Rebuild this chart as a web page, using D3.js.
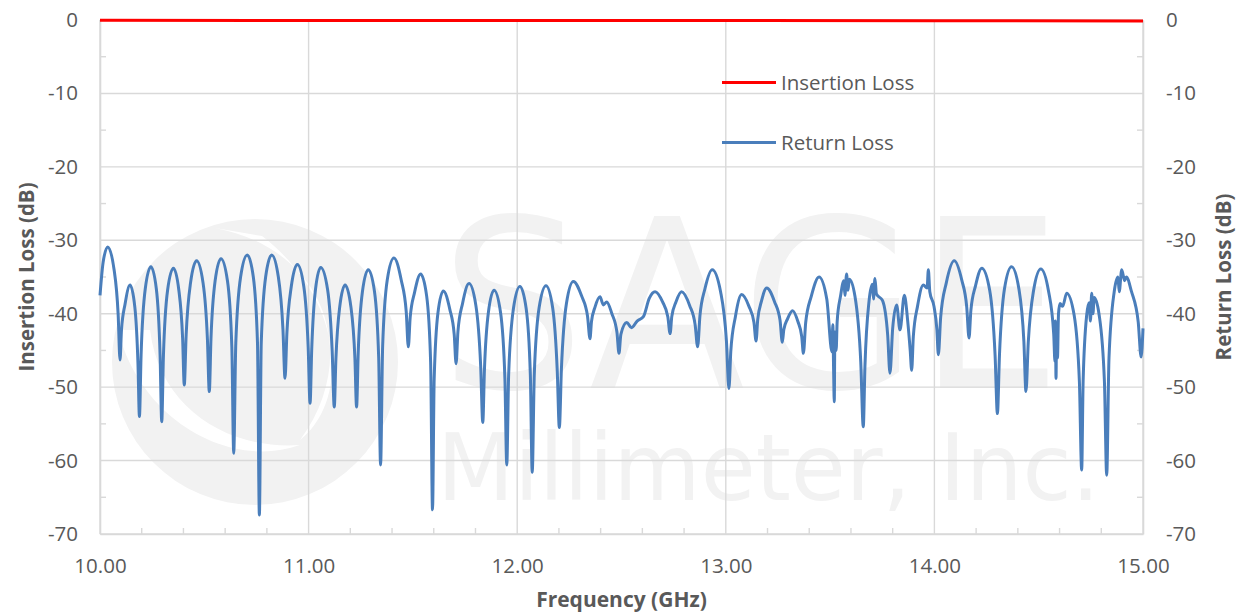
<!DOCTYPE html>
<html>
<head>
<meta charset="utf-8">
<script src="https://cdn.jsdelivr.net/npm/d3@7"></script>
<style>
  html, body { margin: 0; padding: 0; background: #fff; }
  svg { display: block; }
  text { font-family: "Open Sans", "Liberation Sans", sans-serif; }
</style>
</head>
<body>
<svg id="chart" width="1243" height="616"></svg>
<script>
// ---------------- DATA ----------------
const xTickValues = [10, 11, 12, 13, 14, 15];
const xMinorTicks = [10.2, 10.4, 10.6, 10.8, 11.2, 11.4, 11.6, 11.8, 12.2, 12.4, 12.6, 12.8, 13.2, 13.4, 13.6, 13.8, 14.2, 14.4, 14.6, 14.8];
const yTickValues = [0, -10, -20, -30, -40, -50, -60, -70];
const yMinorTicks = [-5, -15, -25, -35, -45, -55, -65];
const seriesNames = ["Insertion Loss", "Return Loss"];

// Insertion loss (GHz, dB)
const ilFreq = [10.0, 11.0, 12.0, 13.0, 14.0, 15.0];
const insertionLoss = [-0.05, -0.06, -0.07, -0.08, -0.10, -0.12];

// Return loss (GHz, dB)
const rlFreq = [
10.000,10.015,10.037,10.067,10.087,10.096,10.103,10.120,10.144,10.167,10.182,10.189,10.197,10.217,10.244,10.270,10.288,10.296,10.304,10.324,
10.352,10.378,10.396,10.404,10.413,10.434,10.463,10.494,10.515,10.524,10.532,10.552,10.580,10.611,10.632,10.641,10.651,10.674,10.706,10.735,
10.755,10.764,10.773,10.794,10.823,10.855,10.877,10.887,10.896,10.917,10.946,10.977,10.998,11.007,11.015,11.033,11.058,11.091,11.113,11.123,
11.131,11.149,11.175,11.203,11.222,11.230,11.238,11.258,11.286,11.316,11.336,11.345,11.355,11.377,11.409,11.444,11.468,11.478,11.487,11.508,
11.537,11.566,11.585,11.594,11.602,11.620,11.646,11.677,11.698,11.707,11.716,11.738,11.769,11.802,11.825,11.835,11.843,11.862,11.889,11.920,
11.941,11.950,11.959,11.982,12.013,12.043,12.063,12.072,12.082,12.105,12.138,12.170,12.192,12.202,12.212,12.236,12.269,12.309,12.337,12.349,
12.356,12.373,12.397,12.413,12.429,12.454,12.478,12.488,12.497,12.525,12.548,12.575,12.605,12.633,12.661,12.697,12.722,12.733,12.741,12.761,
12.788,12.827,12.853,12.865,12.876,12.900,12.935,12.975,13.003,13.015,13.024,13.046,13.076,13.111,13.135,13.145,13.153,13.171,13.196,13.234,
13.260,13.271,13.278,13.296,13.320,13.346,13.364,13.372,13.383,13.410,13.447,13.484,13.509,13.513,13.517,13.520,13.523,13.529,13.534,13.550,
13.566,13.571,13.579,13.586,13.592,13.619,13.647,13.659,13.667,13.687,13.703,13.708,13.715,13.722,13.751,13.776,13.787,13.800,13.819,13.835,
13.856,13.872,13.884,13.891,13.899,13.919,13.947,13.965,13.971,13.978,13.998,14.012,14.019,14.030,14.057,14.095,14.131,14.155,14.166,14.175,
14.197,14.227,14.265,14.291,14.302,14.312,14.336,14.370,14.405,14.429,14.439,14.450,14.475,14.510,14.547,14.572,14.578,14.580,14.583,14.586,
14.590,14.595,14.602,14.615,14.634,14.670,14.695,14.706,14.713,14.730,14.742,14.748,14.754,14.760,14.766,14.790,14.815,14.826,14.837,14.862,
14.880,14.886,14.898,14.912,14.920,14.945,14.977,14.991,15.000
];
const returnLoss = [
-37.5,-33.0,-30.9,-33.9,-40.1,-46.3,-42.2,-38.7,-36.1,-39.1,-46.8,-54.0,-45.6,-36.6,-33.6,-36.6,-45.6,-54.7,-45.8,-36.8,
-33.8,-36.8,-43.3,-49.7,-42.9,-35.8,-32.8,-35.8,-43.5,-50.6,-43.4,-35.5,-32.5,-35.5,-44.5,-59.0,-44.0,-35.0,-32.0,-35.0,
-44.0,-67.4,-44.0,-35.0,-32.0,-35.0,-42.1,-48.8,-42.6,-36.3,-33.3,-36.3,-44.6,-52.2,-44.8,-36.7,-33.7,-36.7,-45.1,-52.7,
-46.1,-39.1,-36.1,-39.1,-46.1,-52.7,-45.2,-37.0,-34.0,-37.0,-46.0,-60.6,-44.4,-35.4,-32.4,-35.4,-39.7,-44.5,-40.5,-37.1,
-34.6,-37.6,-46.6,-66.7,-48.9,-39.9,-36.9,-39.4,-42.8,-46.8,-42.4,-38.6,-35.9,-38.9,-47.2,-54.8,-47.6,-39.8,-36.8,-39.8,
-48.8,-60.6,-48.3,-39.3,-36.3,-39.3,-48.3,-61.6,-48.2,-39.2,-36.2,-39.2,-47.8,-55.5,-47.5,-38.6,-35.6,-37.6,-40.3,-43.4,
-41.1,-39.1,-37.7,-38.8,-38.4,-40.0,-42.5,-45.4,-42.8,-41.2,-41.9,-41.0,-40.4,-37.9,-37.0,-38.4,-40.4,-42.7,-40.4,-38.4,
-37.0,-38.9,-41.5,-44.5,-40.3,-36.6,-34.0,-37.0,-43.7,-50.2,-45.1,-40.4,-37.4,-39.0,-41.2,-43.7,-40.8,-38.3,-36.5,-38.4,
-40.9,-43.9,-42.2,-40.7,-39.6,-41.1,-43.1,-45.4,-41.2,-37.6,-35.0,-38.0,-45.2,-41.5,-48.0,-52.0,-42.5,-45.0,-41.0,-37.6,
-35.5,-37.5,-34.6,-36.8,-35.3,-37.6,-46.6,-55.4,-47.2,-38.2,-36.0,-38.0,-35.2,-37.3,-38.2,-42.9,-48.1,-42.0,-38.8,-42.2,
-37.5,-41.0,-45.0,-47.7,-43.1,-39.0,-36.1,-36.5,-34.0,-37.0,-39.0,-42.2,-45.6,-40.5,-35.8,-32.8,-35.4,-39.1,-43.3,-39.5,
-36.2,-33.8,-36.8,-45.7,-53.6,-45.6,-36.6,-33.6,-36.6,-43.8,-50.6,-43.9,-36.9,-33.9,-36.9,-42.8,-46.5,-41.0,-48.8,-42.0,
-46.0,-40.0,-38.6,-39.0,-37.2,-40.2,-49.2,-61.3,-49.2,-40.2,-38.5,-41.0,-37.2,-40.0,-37.8,-40.2,-49.2,-62.0,-46.0,-37.0,
-35.0,-37.0,-34.0,-35.5,-35.0,-37.0,-41.1,-45.9,-42.0
];

// ---------------- CHART ----------------
const svg = d3.select("#chart");
const W = 1243, H = 616;
svg.append("rect").attr("width", W).attr("height", H).attr("fill", "#ffffff");

const plot = { left: 100, right: 1143, top: 20, bottom: 534 };
const x = d3.scaleLinear().domain([10, 15]).range([plot.left, plot.right]);
const y = d3.scaleLinear().domain([-70, 0]).range([plot.bottom, plot.top]);

const gridColor = "#d9d9d9";
const textColor = "#595959";

// watermark
const wm = svg.append("g").attr("fill", "#f2f2f2");
wm.append("circle").attr("cx", 255).attr("cy", 362).attr("r", 143);
wm.append("path")
  .attr("d", "M 215 228 C 330 250, 360 360, 300 440 C 350 400, 345 300, 262 236 Z")
  .attr("fill", "#ffffff");
wm.append("path")
  .attr("d", "M 118 330 C 140 420, 230 470, 300 445 C 230 450, 160 410, 150 330 Z")
  .attr("fill", "#ffffff");
wm.append("text")
  .attr("x", 440).attr("y", 388)
  .attr("textLength", 622).attr("lengthAdjust", "spacingAndGlyphs")
  .style("font-family", "DejaVu Sans").style("font-size", "235px")
  .text("SAGE");
wm.append("text")
  .attr("x", 437).attr("y", 500)
  .attr("textLength", 663).attr("lengthAdjust", "spacingAndGlyphs")
  .style("font-family", "DejaVu Sans").style("font-size", "93px")
  .text("Millimeter, Inc.");

// gridlines
const grid = svg.append("g").attr("stroke", gridColor).attr("stroke-width", 1.4);
grid.selectAll("line.h").data(yTickValues).join("line")
  .attr("x1", plot.left).attr("x2", plot.right)
  .attr("y1", d => y(d)).attr("y2", d => y(d));
grid.selectAll("line.v").data(xTickValues).join("line")
  .attr("y1", plot.top).attr("y2", plot.bottom)
  .attr("x1", d => x(d)).attr("x2", d => x(d));

// minor ticks
const minor = svg.append("g").attr("stroke", gridColor).attr("stroke-width", 1.4);
minor.selectAll("line.mb").data(xMinorTicks).join("line")
  .attr("x1", d => x(d)).attr("x2", d => x(d))
  .attr("y1", plot.bottom).attr("y2", plot.bottom - 6);
minor.selectAll("line.ml").data(yMinorTicks).join("line")
  .attr("x1", plot.left).attr("x2", plot.left + 6)
  .attr("y1", d => y(d)).attr("y2", d => y(d));
minor.selectAll("line.mr").data(yMinorTicks).join("line")
  .attr("x1", plot.right - 6).attr("x2", plot.right)
  .attr("y1", d => y(d)).attr("y2", d => y(d));

// axes
function styleAxis(g) {
  g.select(".domain").attr("stroke", gridColor).attr("stroke-width", 1.6);
  g.selectAll(".tick line").remove();
  g.selectAll("text").attr("fill", textColor)
    .style("font-size", "20.5px").style("font-family", "'Open Sans', sans-serif");
}
svg.append("g").attr("transform", `translate(${plot.left},0)`)
  .call(d3.axisLeft(y).tickValues(yTickValues).tickSize(0).tickPadding(22).tickSizeOuter(0).tickFormat(d => String(d)))
  .call(styleAxis);
svg.append("g").attr("transform", `translate(${plot.right},0)`)
  .call(d3.axisRight(y).tickValues(yTickValues).tickSize(0).tickPadding(23).tickSizeOuter(0).tickFormat(d => String(d)))
  .call(styleAxis);
svg.append("g").attr("transform", `translate(0,${plot.bottom})`)
  .call(d3.axisBottom(x).tickValues(xTickValues).tickSize(0).tickPadding(24).tickSizeOuter(0).tickFormat(d => d.toFixed(2)))
  .call(styleAxis);

// series
const rlData = rlFreq.map((f, i) => ({ f, v: returnLoss[i] }));
const ilData = ilFreq.map((f, i) => ({ f, v: insertionLoss[i] }));

svg.append("path").datum(rlData)
  .attr("fill", "none").attr("stroke", "#4a7ebb").attr("stroke-width", 3)
  .attr("stroke-linejoin", "round")
  .attr("d", d3.line().x(d => x(d.f)).y(d => y(d.v)).curve(d3.curveMonotoneX));

svg.append("path").datum(ilData)
  .attr("fill", "none").attr("stroke", "#ff0000").attr("stroke-width", 3)
  .attr("d", d3.line().x(d => x(d.f)).y(d => y(d.v)));

// axis titles
svg.append("text")
  .attr("transform", `translate(34,${(plot.top + plot.bottom) / 2}) rotate(-90)`)
  .attr("text-anchor", "middle").attr("fill", textColor)
  .style("font-size", "20.5px").style("font-weight", "bold")
  .text("Insertion Loss (dB)");
svg.append("text")
  .attr("transform", `translate(1231,${(plot.top + plot.bottom) / 2}) rotate(-90)`)
  .attr("text-anchor", "middle").attr("fill", textColor)
  .style("font-size", "20.5px").style("font-weight", "bold")
  .text("Return Loss (dB)");
svg.append("text")
  .attr("x", (plot.left + plot.right) / 2).attr("y", 607)
  .attr("text-anchor", "middle").attr("fill", textColor)
  .style("font-size", "21px").style("font-weight", "bold")
  .text("Frequency (GHz)");

// legend
const legendColors = ["#ff0000", "#4a7ebb"];
const legendY = [82.5, 142.5];
const lg = svg.append("g");
seriesNames.forEach((name, i) => {
  lg.append("line").attr("x1", 722).attr("x2", 776)
    .attr("y1", legendY[i]).attr("y2", legendY[i])
    .attr("stroke", legendColors[i]).attr("stroke-width", 3);
  lg.append("text").attr("x", 781).attr("y", legendY[i]).attr("dy", "0.35em")
    .attr("fill", textColor).style("font-size", "20.5px")
    .text(name);
});
</script>
</body>
</html>
